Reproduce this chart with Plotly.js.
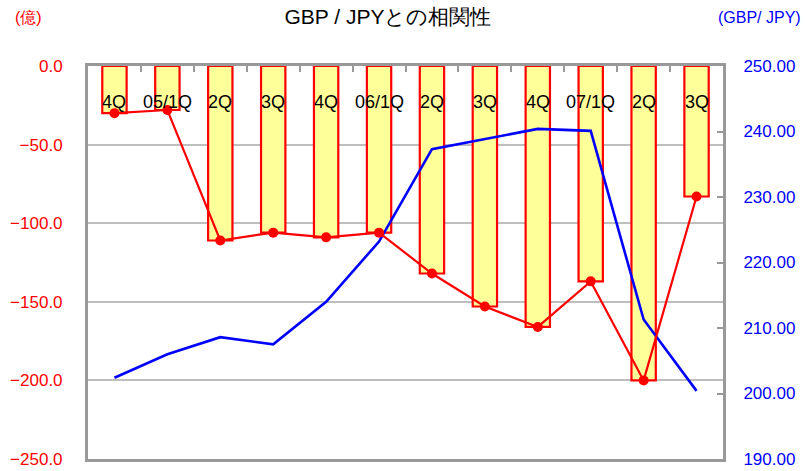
<!DOCTYPE html>
<html>
<head>
<meta charset="utf-8">
<script src="https://cdn.plot.ly/plotly-3.0.1.min.js"></script>
<style>html,body{margin:0;padding:0;background:#fff;}#chart{width:807px;height:471px;}</style>
</head>
<body>
<div id="chart"></div>
<script>
// Quarter labels (2004 4Q to 2007 3Q)
const quarters = ["4Q", "05/1Q", "2Q", "3Q", "4Q", "06/1Q", "2Q", "3Q", "4Q", "07/1Q", "2Q", "3Q"];
// Net flow (億) – bars and red line
const flowValues = [-30, -28, -111, -106, -109, -106, -132, -153, -166, -137, -200, -83];
// GBP/JPY rate – blue line
const gbpjpy = [202.4, 206.0, 208.6, 207.5, 214.0, 223.2, 237.3, 238.9, 240.4, 240.1, 211.3, 200.4];

const idx = quarters.map((_, i) => i);
const boundaries = quarters.slice(1).map((_, i) => i + 0.5);

const font = "Liberation Sans, Arial, sans-serif";

const traces = [
  {
    type: "bar", x: idx, y: flowValues, xaxis: "x", yaxis: "y",
    width: 0.46,
    marker: {color: "#FFFF99", line: {color: "#FF0000", width: 2.2}},
    hoverinfo: "skip", showlegend: false
  },
  {
    type: "scatter", mode: "lines", x: idx, y: gbpjpy, xaxis: "x", yaxis: "y2",
    line: {color: "#0000FF", width: 2.6},
    showlegend: false
  },
  {
    type: "scatter", mode: "lines+markers", x: idx, y: flowValues, xaxis: "x", yaxis: "y3",
    line: {color: "#FF0000", width: 2.2},
    marker: {color: "#FF0000", size: 10},
    showlegend: false
  }
];

const W = 807, H = 471, mL = 88, mR = 84, mT = 66, mB = 12;
const pw = W - mL - mR, ph = H - mT - mB;
const px = x => (x - mL) / pw;
const py = y => (H - mB - y) / ph;

const annotations = quarters.map((q, i) => ({
  x: i, xref: "x", y: py(102), yref: "paper",
  text: q, showarrow: false, xanchor: "center", yanchor: "middle",
  font: {family: font, size: 18, color: "#000"}
}));
annotations.push(
  {x: px(13), xref: "paper", y: py(17), yref: "paper", text: "(億)", showarrow: false,
   xanchor: "left", yanchor: "middle", font: {family: font, size: 16, color: "#FF0000"}},
  {x: px(803), xref: "paper", y: py(17), yref: "paper", text: "(GBP/ JPY)", showarrow: false,
   xanchor: "right", yanchor: "middle", font: {family: font, size: 16, color: "#0000FF"}}
);

const layout = {
  width: W, height: H,
  margin: {l: mL, r: mR, t: mT, b: mB, pad: 0},
  paper_bgcolor: "#fff", plot_bgcolor: "#fff",
  font: {family: font},
  title: {text: "GBP / JPYとの相関性", x: 388 / W, xanchor: "center", xref: "container", y: 1 - 17 / H, yanchor: "middle",
          font: {family: font, size: 21, color: "#000"}},
  showlegend: false,
  bargap: 0,
  xaxis: {
    range: [-0.5, 11.5], side: "top", showgrid: false, zeroline: false,
    tickmode: "array", tickvals: boundaries, ticktext: boundaries.map(() => ""),
    ticks: "inside", ticklen: 6, tickwidth: 2, tickcolor: "#999",
    showline: true, linecolor: "#999", linewidth: 3, mirror: true,
    showticklabels: false, fixedrange: true
  },
  yaxis: {
    range: [-250, 0], tickmode: "linear", tick0: 0, dtick: 50, tickformat: ".1f",
    showgrid: true, gridcolor: "#BEBEBE", gridwidth: 2, zeroline: false,
    ticks: "", showline: true, linecolor: "#999", linewidth: 3, mirror: true,
    tickfont: {family: font, size: 17, color: "#FF0000"}, ticklabelstandoff: 19
  },
  yaxis2: {
    range: [190, 250], overlaying: "y", side: "right", tickmode: "linear", tick0: 190, dtick: 10,
    tickformat: ".2f", showgrid: false, zeroline: false,
    ticks: "inside", ticklen: 6, tickwidth: 2, tickcolor: "#999",
    showline: true, linecolor: "#999", linewidth: 3,
    tickfont: {family: font, size: 17, color: "#0000FF"}, ticklabelstandoff: 14
  },
  yaxis3: {
    range: [-250, 0], overlaying: "y", visible: false
  },
  annotations: annotations
};

Plotly.newPlot("chart", traces, layout, {staticPlot: true, displayModeBar: false});
</script>
</body>
</html>
